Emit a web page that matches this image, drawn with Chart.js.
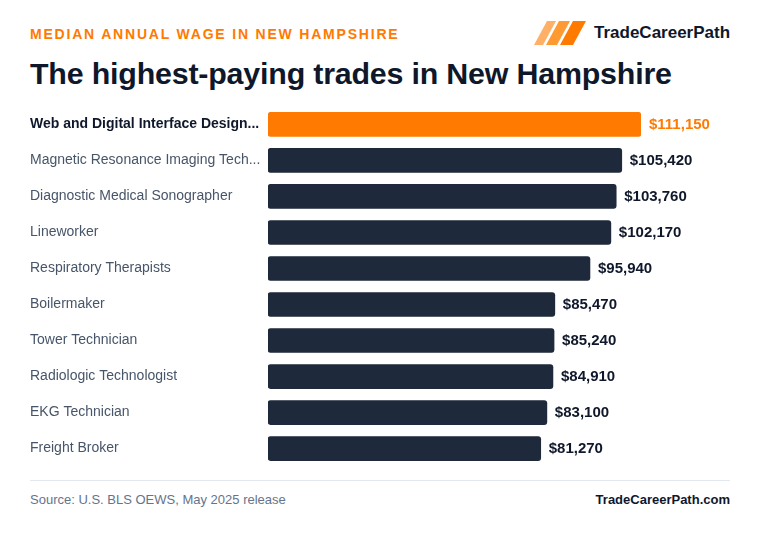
<!DOCTYPE html>
<html>
<head>
<meta charset="utf-8">
<script src="https://cdn.jsdelivr.net/npm/chart.js@4"></script>
<style>
  html,body{margin:0;padding:0;background:#fff;}
  body{width:760px;height:536px;position:relative;font-family:"Liberation Sans",Arial,sans-serif;overflow:hidden;}
  .kicker{position:absolute;left:30px;top:26px;font-size:14px;font-weight:700;letter-spacing:1.8px;color:#ff7a00;}
  .title{position:absolute;left:30px;top:56px;font-size:30.4px;font-weight:700;color:#0f172a;letter-spacing:-0.2px;}
  .logo{position:absolute;left:534px;top:21px;height:24px;display:flex;align-items:center;}
  .logo svg{display:block}
  .logo span{margin-left:8px;font-size:17px;font-weight:700;color:#0f172a;}
  .rule{position:absolute;left:30px;top:480px;width:700px;height:1px;background:#e2e8f0;}
  .src{position:absolute;left:30px;top:492px;font-size:13px;color:#64748b;}
  .site{position:absolute;right:30px;top:492px;font-size:13px;font-weight:700;color:#0f172a;}
  #wrap{position:absolute;left:30px;top:90px;width:700px;height:393px;}
</style>
</head>
<body>
<div class="kicker">MEDIAN ANNUAL WAGE IN NEW HAMPSHIRE</div>
<div class="title">The highest-paying trades in New Hampshire</div>
<div class="logo">
  <svg width="52" height="24" viewBox="0 0 52 24">
    <polygon points="0,24 13,0 22,0 9,24" fill="#ffb066"/>
    <polygon points="12,24 25,0 36,0 23,24" fill="#ff9a33"/>
    <polygon points="26,24 39,0 52,0 39,24" fill="#ff7a00"/>
  </svg>
  <span>TradeCareerPath</span>
</div>
<div id="wrap"><canvas id="c"></canvas></div>
<div class="rule"></div>
<div class="src">Source: U.S. BLS OEWS, May 2025 release</div>
<div class="site">TradeCareerPath.com</div>
<script>
const categories = [
  "Web and Digital Interface Design...",
  "Magnetic Resonance Imaging Tech...",
  "Diagnostic Medical Sonographer",
  "Lineworker",
  "Respiratory Therapists",
  "Boilermaker",
  "Tower Technician",
  "Radiologic Technologist",
  "EKG Technician",
  "Freight Broker"
];
const wages = [111150, 105420, 103760, 102170, 95940, 85470, 85240, 84910, 83100, 81270];
const highlightIndex = 0;

const ORANGE = "#ff7a00";
const DARK = "#1e293b";

const valueLabels = {
  id: "valueLabels",
  afterDatasetsDraw(chart) {
    const ctx = chart.ctx;
    const meta = chart.getDatasetMeta(0);
    ctx.save();
    ctx.font = "700 15px 'Liberation Sans', Arial, sans-serif";
    ctx.textBaseline = "middle";
    ctx.textAlign = "left";
    meta.data.forEach((bar, i) => {
      ctx.fillStyle = i === highlightIndex ? ORANGE : "#0f172a";
      ctx.fillText("$" + wages[i].toLocaleString("en-US"), bar.x + 8, bar.y);
    });
    ctx.restore();
  }
};

new Chart(document.getElementById("c"), {
  type: "bar",
  data: {
    labels: categories,
    datasets: [{
      data: wages,
      backgroundColor: wages.map((v, i) => i === highlightIndex ? ORANGE : DARK),
      borderRadius: 3,
      borderSkipped: false,
      barThickness: 24
    }]
  },
  options: {
    indexAxis: "y",
    responsive: true,
    maintainAspectRatio: false,
    animation: false,
    layout: { padding: { top: 0, bottom: 0, right: 89, left: 0 } },
    plugins: { legend: { display: false }, tooltip: { enabled: false } },
    scales: {
      x: { display: false, min: 0, max: Math.max(...wages) },
      y: {
        grid: { display: false },
        border: { display: false },
        afterFit(scale) { scale.width = 238; },
        ticks: {
          crossAlign: "far",
          padding: 8,
          color: (c) => c.index === highlightIndex ? "#0f172a" : "#475569",
          font: (c) => ({
            family: "'Liberation Sans', Arial, sans-serif",
            size: 14,
            weight: c.index === highlightIndex ? "700" : "400"
          })
        }
      }
    }
  },
  plugins: [valueLabels]
});
</script>
</body>
</html>
